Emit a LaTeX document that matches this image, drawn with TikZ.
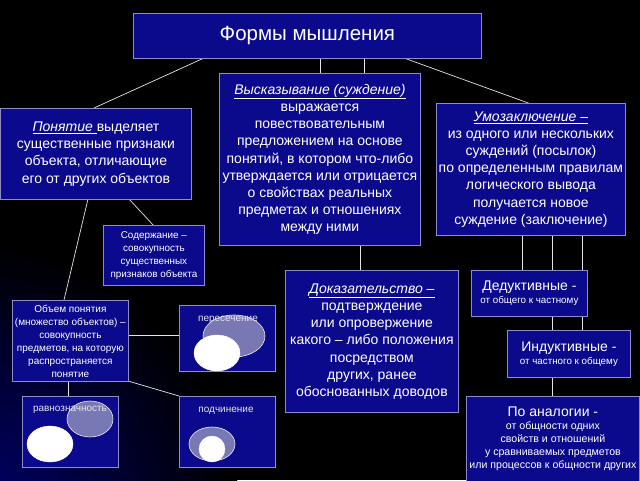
\documentclass[tikz,border=0pt]{standalone}
\usepackage{fontspec}
\setmainfont{Liberation Sans}
\usetikzlibrary{shapes.geometric}
\definecolor{boxblue}{RGB}{12,10,140}
\definecolor{boxline}{RGB}{140,140,200}
\definecolor{venngrey}{RGB}{120,120,180}
\tikzset{
  bx/.style={draw=boxline, line width=0.8pt, fill=boxblue, text=white, anchor=north west, inner sep=0pt, align=center},
  link/.style={draw=white!80!gray, line width=0.7pt},
  vg/.style={draw=white!85!gray, fill=venngrey, line width=0.6pt},
  vw/.style={draw=white, fill=white},
  big/.style={font=\fontsize{14}{17.2}\selectfont},
}
\newcommand{\ul}[1]{\underline{\textit{#1}}}
\begin{document}
\begin{tikzpicture}[x=1pt,y=-1pt]
\useasboundingbox (0,0) rectangle (640,480);
\fill[black] (0,0) rectangle (640,480);
\begin{scope}
\clip (0,0) rectangle (640,480);
\shade[inner color=blue!45!black, outer color=black] (-40,520) circle (280);
\end{scope}
% links first
\draw[link] (204,58) -- (94,108);
\draw[link] (320,58) -- (320,74);
\draw[link] (364,58) -- (364,74);
\draw[link] (404,58) -- (531,104);
\draw[link] (129,199) -- (154,226);
\draw[link] (88,199) -- (64,300);
\draw[link] (360,245) -- (360,270);
\draw[link] (522,235) -- (522,270);
\draw[link] (552,235) -- (552,396);
\draw[link] (582,235) -- (582,330);
\draw[link] (128,335) -- (179,335);
\draw[link] (128,381) -- (179,396);
\draw[link] (68,381) -- (68,396);
% boxes
\node[bx, minimum width=348, minimum height=45, font=\fontsize{20.5}{22}\selectfont] (top) at (133,13) {Формы мышления};
\node[bx, minimum width=191, minimum height=91, big] (pon) at (0,108) {\ul{Понятие }выделяет\\существенные признаки\\объекта, отличающие\\его от других объектов};
\node[bx, minimum width=201, minimum height=172, big] (vys) at (219,73) {\ul{Высказывание (суждение)}\\выражается\\повествовательным\\предложением на основе\\понятий, в котором что-либо\\утверждается или отрицается\\о свойствах реальных\\предметах и отношениях\\между ними};
\node[bx, minimum width=189, minimum height=132, big] (umo) at (436,103) {\ul{Умозаключение –}\\из одного или нескольких\\суждений (посылок)\\по определенным правилам\\логического вывода\\получается новое\\суждение (заключение)};
\node[bx, minimum width=101, minimum height=60, font=\fontsize{9.9}{13}\selectfont] (sod) at (103,225) {Содержание –\\совокупность\\существенных\\признаков объекта};
\node[bx, minimum width=173, minimum height=142, big] (dok) at (285,270) {\ul{Доказательство –}\\подтверждение\\или опровержение\\какого – либо положения\\посредством\\других, ранее\\обоснованных доводов};
\node[bx, minimum width=116, minimum height=46] (ded) at (471,270) {{\fontsize{14}{15}\selectfont Дедуктивные -}\\[1pt]{\fontsize{9.8}{10}\selectfont от общего к частному}};
\node[bx, minimum width=123, minimum height=47] (ind) at (507,330) {{\fontsize{14}{15}\selectfont Индуктивные -}\\[1pt]{\fontsize{9.8}{10}\selectfont от частного к общему}};
\node[bx, minimum width=173, minimum height=85, font=\fontsize{10.6}{13}\selectfont] (ana) at (466,396) {{\fontsize{14}{15}\selectfont По аналогии -}\\от общности одних\\свойств и отношений\\у сравниваемых предметов\\или процессов к общности других};
\node[bx, minimum width=116, minimum height=81, font=\fontsize{10}{13}\selectfont] (obm) at (12,300) {Объем понятия\\(множество объектов) –\\совокупность\\предметов, на которую\\распространяется\\понятие};
\node[bx, minimum width=96, minimum height=66] (per) at (179,305) {};
\node[bx, minimum width=96, minimum height=71] (rav) at (22,396) {};
\node[bx, minimum width=96, minimum height=71] (pod) at (179,396) {};
% venn
\fill[vg] (234,336) ellipse [x radius=31, y radius=21];
\fill[vw] (217,353) ellipse [x radius=23, y radius=18];
\node[text=white!80!gray, font=\fontsize{10}{10}\selectfont] (perl) at (228,320) {пересечение};
\fill[vg] (90,419) ellipse [x radius=23, y radius=18];
\fill[vw] (50,444) ellipse [x radius=23, y radius=18];
\node[text=white!80!gray, font=\fontsize{10}{10}\selectfont] (ravl) at (70,410) {равнозначность};
\fill[vg] (212,444) ellipse [x radius=23, y radius=17];
\fill[vw] (212,449) ellipse [x radius=13, y radius=13];
\node[text=white!80!gray, font=\fontsize{10}{10}\selectfont] (podl) at (226,411) {подчинение};
\end{tikzpicture}
\end{document}
